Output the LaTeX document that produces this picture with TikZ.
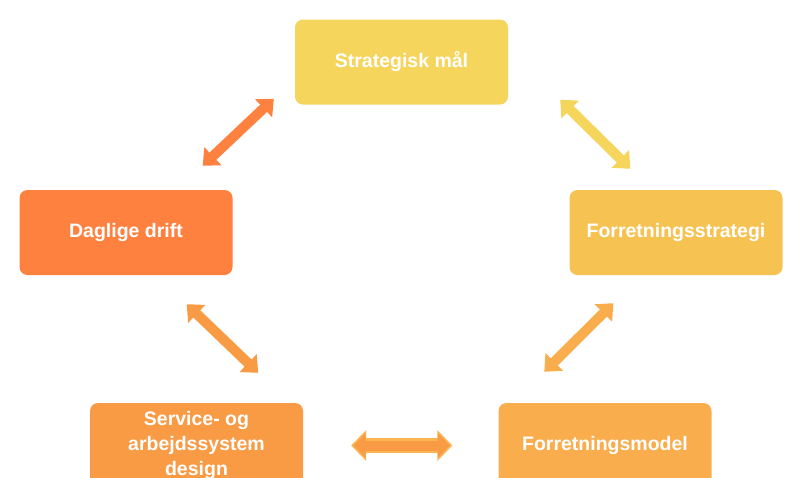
\documentclass[tikz,border=0pt]{standalone}
\usepackage{fontspec}
\setmainfont{Liberation Sans}
\usetikzlibrary{arrows.meta}
\definecolor{goal}{HTML}{F6D55C}
\definecolor{strategy}{HTML}{F6C353}
\definecolor{drift}{HTML}{FE8140}
\definecolor{service}{HTML}{F99A45}
\definecolor{model}{HTML}{F9AD4C}
\definecolor{rim}{HTML}{FCB451}

\begin{document}
\begin{tikzpicture}[x=1pt,y=-1pt,
  box/.style={fill=#1,rounded corners=8pt,minimum width=213pt,minimum height=85pt,
    inner sep=0pt,text=white,align=center,font=\bfseries\fontsize{19.5}{25}\selectfont},
  link/.style={draw=#1,line width=10pt,
    {Triangle[width=24pt,length=14pt]}-{Triangle[width=24pt,length=14pt]}}]
\clip (0,0) rectangle (786,477);
\useasboundingbox (0,0) rectangle (786,477);
\node[box=goal] (goal) at (401.5,62) {Strategisk mål};
\node[box=strategy] (strategy) at (676,232.5) {Forretningsstrategi};
\node[box=drift] (drift) at (126,232.5) {Daglige drift};
\node[box=service] (service) at (196.5,445.5) {Service- og\\arbejdssystem\\design};
\node[box=model] (model) at (605,445.5) {Forretningsmodel};
\draw[link=drift] ([shift={(-30,-24)}]drift.north east) -- ([shift={(-21,-6)}]goal.south west);
\draw[link=goal] ([shift={(52,-5)}]goal.south east) -- ([shift={(61,-21)}]strategy.north west);
\draw[link=model] ([shift={(44,28)}]strategy.south west) -- ([shift={(46,-31)}]model.north west);
\draw[link=service] ([shift={(-46,29)}]drift.south east) -- ([shift={(-45,-30)}]service.north east);
% bottom arrow with a lighter rim
\draw[link=rim,line width=15pt,{Triangle[width=30pt,length=15pt]}-{Triangle[width=30pt,length=15pt]}]
  ([shift={(48,0)}]service.east) -- ([shift={(-46,0)}]model.west);
\draw[link=service,line width=10pt,shorten <=2.5pt,shorten >=2.5pt,
  {Triangle[width=24pt,length=12pt]}-{Triangle[width=24pt,length=12pt]}]
  ([shift={(48,0)}]service.east) -- ([shift={(-46,0)}]model.west);
\end{tikzpicture}
\end{document}
